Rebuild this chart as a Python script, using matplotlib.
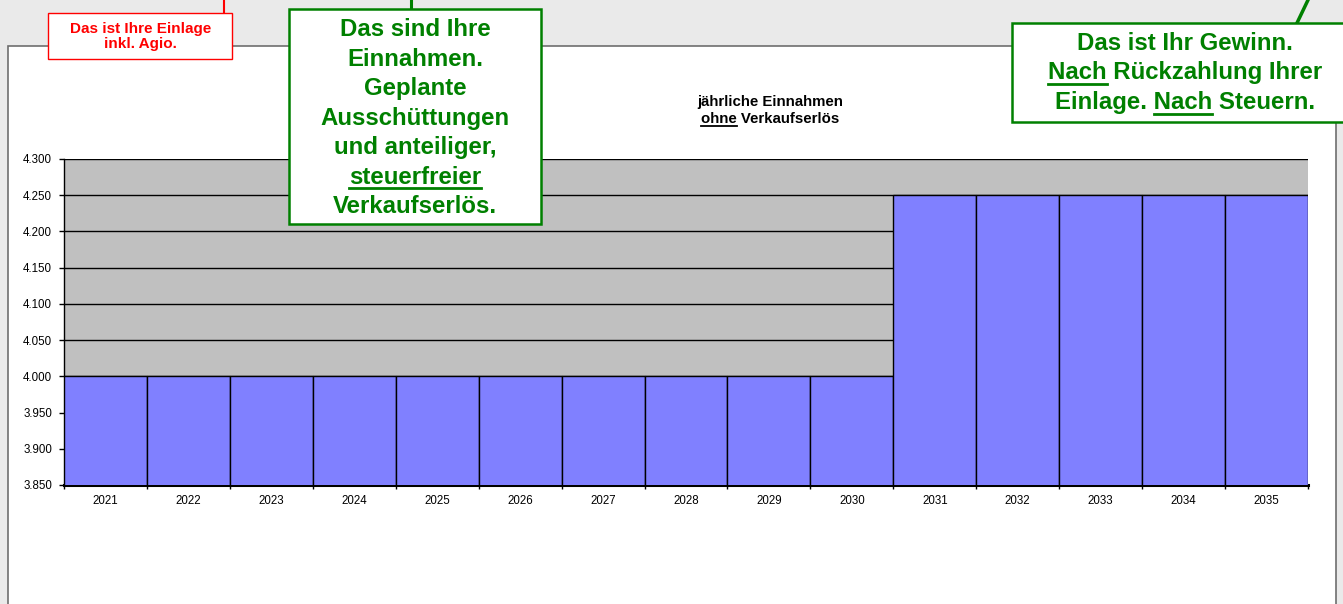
import matplotlib
matplotlib.use("Agg")
import matplotlib.pyplot as plt
from matplotlib.patches import Rectangle
from matplotlib.lines import Line2D
from matplotlib.ticker import FixedLocator, FuncFormatter, NullFormatter

# ---------------- data ----------------
years = ["2021", "2022", "2023", "2024", "2025", "2026", "2027", "2028",
         "2029", "2030", "2031", "2032", "2033", "2034", "2035"]
einnahmen = [4000, 4000, 4000, 4000, 4000, 4000, 4000, 4000,
             4000, 4000, 4250, 4250, 4250, 4250, 4250]
y_ticks = [3850, 3900, 3950, 4000, 4050, 4100, 4150, 4200, 4250, 4300]

title_lines = [[("jährliche Einnahmen", False)],
               [("ohne", True), (" Verkaufserlös", False)]]
red_lines = [[("Das ist Ihre Einlage", False)], [("inkl. Agio.", False)]]
green1_lines = [[("Das sind Ihre", False)], [("Einnahmen.", False)],
                [("Geplante", False)], [("Ausschüttungen", False)],
                [("und anteiliger,", False)], [("steuerfreier", True)],
                [("Verkaufserlös.", False)]]
green2_lines = [[("Das ist Ihr Gewinn.", False)],
                [("Nach", True), (" Rückzahlung Ihrer", False)],
                [("Einlage. ", False), ("Nach", True), (" Steuern.", False)]]

FONT = "Liberation Sans"
W, H = 1343, 604
GREEN = "#008000"
RED = "#FF0000"

fig = plt.figure(figsize=(W / 100, H / 100), dpi=100, facecolor="#EAEAEA")


def fx(x):
    return x / W


def fy(y):
    return 1 - y / H


# white chart area
fig.patches.append(Rectangle((fx(8), fy(650)), (1336 - 8) / W, (650 - 46) / H,
                             transform=fig.transFigure, facecolor="white",
                             edgecolor="#6E6E6E", lw=1.2, zorder=0))

# ---------------- axes ----------------
ax = fig.add_axes([fx(64), fy(485), (1308 - 64) / W, (485 - 159) / H])
ax.set_zorder(1)
ax.set_facecolor("#C0C0C0")
x = list(range(len(years)))
ax.bar(x, einnahmen, width=1.0, color="#8080FF", edgecolor="black",
       linewidth=1.0, zorder=3)
ax.set_xlim(-0.5, len(years) - 0.5)
ax.set_ylim(y_ticks[0], y_ticks[-1])
ax.yaxis.set_major_locator(FixedLocator(y_ticks))
ax.yaxis.set_major_formatter(FuncFormatter(lambda v, p: f"{v:,.0f}".replace(",", ".")))
ax.set_axisbelow(True)
ax.yaxis.grid(True, color="black", lw=1.0)
ax.xaxis.grid(False)

ax.xaxis.set_major_locator(FixedLocator([i - 0.5 for i in range(len(years) + 1)]))
ax.xaxis.set_major_formatter(NullFormatter())
ax.xaxis.set_minor_locator(FixedLocator(x))
ax.set_xticklabels(years, minor=True)
ax.tick_params(axis="x", which="major", direction="out", length=3, width=1, color="black")
ax.tick_params(axis="x", which="minor", length=0, pad=7, labelsize=8.3)
ax.tick_params(axis="y", direction="out", length=3.5, width=1, pad=5, labelsize=8.3)
for lab in ax.get_xticklabels(minor=True) + ax.get_yticklabels():
    lab.set_fontfamily(FONT)
for s in ("top", "right"):
    ax.spines[s].set_visible(False)
ax.spines["left"].set_linewidth(1.0)
ax.spines["bottom"].set_linewidth(2.2)

# ---------------- text helpers ----------------
renderer = fig.canvas.get_renderer()


def text_width(s, size):
    t = fig.text(0, 0, s, fontsize=size, fontweight="bold", family=FONT)
    w = t.get_window_extent(renderer).width
    t.remove()
    return w


def draw_line(xc, yb, segs, size, color, ul_off, ul_lw):
    full = "".join(s for s, _ in segs)
    wfull = text_width(full, size)
    left = xc - wfull / 2
    fig.text(fx(xc), fy(yb), full, ha="center", va="baseline", fontsize=size,
             fontweight="bold", family=FONT, color=color, zorder=6)
    prefix = ""
    wx = text_width("x", size)
    for s, u in segs:
        if u:
            off = (text_width(prefix + "x", size) - wx) if prefix else 0
            w = text_width(s, size)
            fig.add_artist(Line2D([fx(left + off), fx(left + off + w)],
                                  [fy(yb + ul_off)] * 2, transform=fig.transFigure,
                                  color=color, lw=ul_lw, zorder=7))
        prefix += s


def box(x0, y0, x1, y1, color, lw):
    fig.patches.append(Rectangle((fx(x0), fy(y1)), (x1 - x0) / W, (y1 - y0) / H,
                                 transform=fig.transFigure, facecolor="white",
                                 edgecolor=color, lw=lw, zorder=5))


def line(xs, ys, color, lw):
    fig.add_artist(Line2D([fx(v) for v in xs], [fy(v) for v in ys],
                          transform=fig.transFigure, color=color, lw=lw, zorder=4))


# title
for i, segs in enumerate(title_lines):
    draw_line(770, 106 + 17 * i, segs, 10.8, "black", 3, 1.3)

# red callout
line([224, 224], [0, 13], RED, 1.5)
box(48, 13, 232, 59, RED, 1.0)
for i, segs in enumerate(red_lines):
    draw_line(140.5, 33.5 + 14.5 * i, segs, 11, RED, 2, 1.0)

# green callout 1
line([411, 411], [0, 9], GREEN, 2.2)
box(289, 9, 541, 224, GREEN, 1.8)
for i, segs in enumerate(green1_lines):
    draw_line(415, 36 + 29.5 * i, segs, 17.3, GREEN, 4, 2.0)

# green callout 2
line([1297, 1308], [23, 0], GREEN, 2.5)
box(1012, 23, 1360, 122, GREEN, 1.8)
for i, segs in enumerate(green2_lines):
    draw_line(1185, 49.5 + 30 * i, segs, 17.3, GREEN, 4, 2.0)

fig.savefig("out.png", dpi=100, facecolor=fig.get_facecolor())
